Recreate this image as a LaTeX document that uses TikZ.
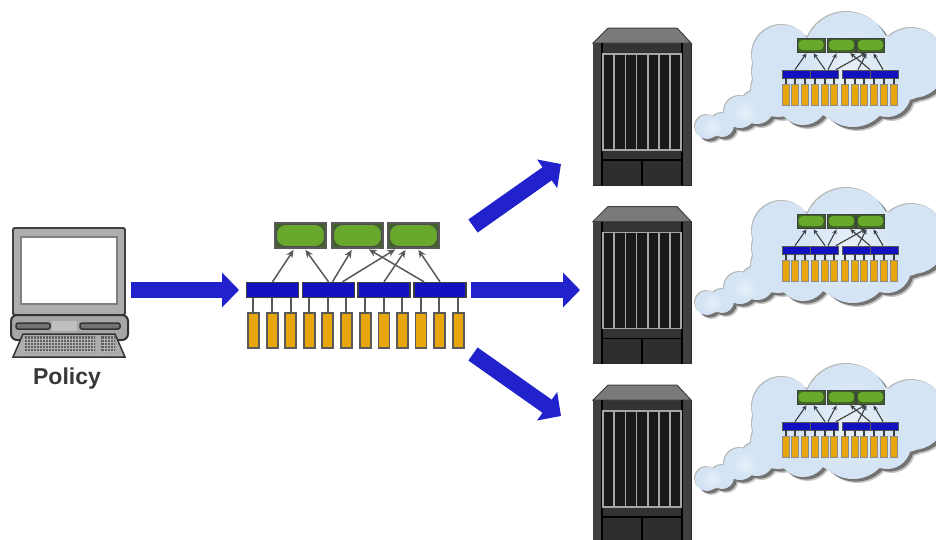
\documentclass[tikz,border=0pt]{standalone}
\usepackage{fontspec}
\setmainfont{Liberation Sans}
\usetikzlibrary{arrows.meta}
\definecolor{bigblue}{HTML}{2222CC}
\definecolor{barblue}{HTML}{1111C0}
\definecolor{leafgold}{HTML}{E6A60C}
\definecolor{leafgreen}{HTML}{68A82C}
\definecolor{boxgreen}{HTML}{3F6425}
\definecolor{cloudblue}{HTML}{D4E4F4}
\definecolor{cloudpale}{HTML}{E8F0F9}
\definecolor{inkgrey}{HTML}{3C3C3C}
\tikzset{
  bigarrow/.style={draw=bigblue,line width=16pt,-{Triangle[length=17pt,width=34pt]}},
  bigbar/.style={draw=black!75,line width=1.4pt,fill=barblue,minimum width=52pt,minimum height=15pt,inner sep=0pt},
  bigleaf/.style={draw=black!65,line width=1.6pt,fill=leafgold,minimum width=11pt,minimum height=35pt,inner sep=0pt},
  bigbox/.style={draw=black!65,line width=1.2pt,fill=boxgreen,minimum width=51pt,minimum height=25pt,inner sep=0pt},
  bigcore/.style={draw=black!70,line width=.9pt,fill=leafgreen,rounded corners=9pt,minimum width=48pt,minimum height=22pt,inner sep=0pt},
  bigup/.style={draw=inkgrey!85,line width=1.5pt,shorten >=1.5pt,-{Stealth[length=8pt,width=7pt]}},
  bigstem/.style={draw=inkgrey!85,line width=1.8pt},
  smallbar/.style={draw=black!65,line width=.8pt,fill=barblue,minimum width=28pt,minimum height=8pt,inner sep=0pt},
  smallleaf/.style={draw=black!45,line width=1pt,fill=leafgold,minimum width=7pt,minimum height=21pt,inner sep=0pt},
  smallbox/.style={draw=black!75,line width=1pt,fill=boxgreen,minimum width=28pt,minimum height=14pt,inner sep=0pt},
  smallcore/.style={fill=leafgreen,rounded corners=4pt,minimum width=25pt,minimum height=10pt,inner sep=0pt},
  smallup/.style={draw=inkgrey,line width=1.1pt,shorten >=1pt,-{Stealth[length=5pt,width=4.5pt]}},
  smallstem/.style={draw=inkgrey,line width=1.2pt},
}
\newcommand{\lobespath}{
  (782,55) circle (30pt) (778,90) circle (27pt) (780,72) circle (28pt) (847,55) circle (43pt)
  (853,90) circle (37pt) (803,100) circle (25pt) (912,63) circle (35pt)
  (907,80) circle (20pt) (887,93) circle (24pt) (815,70) circle (30pt) (880,65) circle (30pt)
  (757,107) circle (17pt) (740,112) circle (16pt) (722,125) circle (12pt) (707,127) circle (12pt)
}
\newcommand{\servericon}[1]{
  \begin{scope}[shift={(0,#1)}]
    \fill[draw=black!85,line width=1pt,fill=black!80] (593,43) rectangle (691,185);
    \fill[draw=black!75,line width=1pt,fill=black!52] (593,43) -- (608,28) -- (677,28) -- (691,43) -- cycle;
    \fill[black!75] (593,43) rectangle (602,185) (682,43) rectangle (691,185);
    \fill[black!82] (603,160) rectangle (681,185);
    \fill[black!90] (603,54) rectangle (681,150);
    \draw[black,line width=1.2pt] (602,43) -- (602,185) (682,43) -- (682,185) (602,160) -- (682,160) (642,160) -- (642,185);
    \draw[black!35,line width=1.6pt] (603,54) rectangle (681,150);
    \foreach \sx in {614,625.5,636.5,648,659,670}
      \draw[black!35,line width=1.6pt] (\sx,54) -- (\sx,150);
  \end{scope}
}
\newcommand{\cloudicon}[2]{
  \begin{scope}[shift={(0,#2)}]
    \begin{scope}[shift={(4.5,4)}]\fill[black!22] \lobespath;\end{scope}
    \begin{scope}[shift={(3,2.6)}]\fill[black!55] \lobespath;\end{scope}
    \begin{scope}[shift={(-1,-1)}]\fill[black!28] \lobespath;\end{scope}
    \fill[cloudblue] \lobespath;
    \shade[inner color=cloudpale,outer color=cloudblue] (848,72) circle (50pt);
    \shade[inner color=cloudpale,outer color=cloudblue] (745,112) circle (13pt);
    \shade[inner color=cloudpale,outer color=cloudblue] (712,127) circle (10pt);
    \foreach \i/\x in {1/811,2/841.5,3/870.5}{
      \node[smallbox] (#1g\i) at (\x,45) {};
      \node[smallcore] (#1c\i) at (#1g\i.center) {};
    }
    \foreach \i/\x in {1/796,2/824,3/856,4/884}
      \node[smallbar] (#1b\i) at (\x,74) {};
    \foreach \i/\x in {1/786,2/795,3/805,4/815,5/825,6/834,7/845,8/855,9/864,10/874,11/884,12/894}{
      \node[smallleaf] (#1o\i) at (\x,94.5) {};
    }
    \foreach \i/\j in {1/1,2/1,3/1,4/2,5/2,6/2,7/3,8/3,9/3,10/4,11/4,12/4}
      \draw[smallstem] (#1o\i.north) -- (#1o\i.north |- #1b\j.south);
    \draw[smallup] ([xshift=-1pt]#1b1.north) -- ([xshift=-4pt]#1g1.south);
    \draw[smallup] ([xshift=1pt]#1b2.north) -- ([xshift=2pt]#1g1.south);
    \draw[smallup] ([xshift=4pt]#1b2.north) -- ([xshift=-4.5pt]#1g2.south);
    \draw[smallup] ([xshift=12pt]#1b2.north) -- ([xshift=-4pt]#1g3.south);
    \draw[smallup] ([xshift=2pt]#1b3.north) -- ([xshift=-3.5pt]#1g3.south);
    \draw[smallup] ([xshift=-1pt]#1b4.north) -- ([xshift=2.5pt]#1g3.south);
    \draw[smallup] ([xshift=-14pt]#1b4.north) -- ([xshift=8pt]#1g2.south);
  \end{scope}
}
\begin{document}
\begin{tikzpicture}[x=1pt,y=-1pt]
  \useasboundingbox (0,0) rectangle (936,539);
  \fill[white] (0,0) rectangle (936,539);

  % policy workstation
  \fill[draw=black!75,line width=1.8pt,fill=black!32,rounded corners=1.5pt] (13,228) rectangle (125,315);
  \fill[draw=black!50,line width=1.5pt,fill=white] (21,237) rectangle (117,304);
  \fill[draw=black!80,line width=2pt,fill=black!35,rounded corners=6pt] (11,315) rectangle (128,340);
  \fill[draw=black!80,line width=1.5pt,fill=black!55,rounded corners=2pt] (16,323) rectangle (50,329);
  \fill[draw=black!80,line width=1.5pt,fill=black!55,rounded corners=2pt] (80,323) rectangle (120,329);
  \fill[black!25] (52,321) rectangle (77,331);
  \fill[draw=black!80,line width=1.5pt,fill=black!32] (23,334) -- (115,334) -- (125,357) -- (13,357) -- cycle;
  \fill[black!62] (25,336) rectangle (95,352) (101,336) rectangle (115,352);
  \foreach \kx in {27,30,...,93} \draw[black!30,line width=.7pt] (\kx,336) -- (\kx,352);
  \foreach \kx in {104,107,...,113} \draw[black!30,line width=.7pt] (\kx,336) -- (\kx,352);
  \foreach \ky in {339,342,...,351} \draw[black!30,line width=.7pt] (25,\ky) -- (95,\ky) (101,\ky) -- (115,\ky);
  \node[font=\bfseries\fontsize{23}{25}\selectfont,text=black!78,inner sep=0pt] (policy) at (67,379) {Policy};

  % central policy tree
  \foreach \i/\x in {1/300.5,2/357.5,3/413.5}{
    \node[bigbox] (g\i) at (\x,235.5) {};
    \node[bigcore] (c\i) at (g\i.center) {};
  }
  \foreach \i/\x in {1/272.5,2/328.5,3/384,4/440}
    \node[bigbar] (b\i) at (\x,290) {};
  \foreach \i/\x in {1/253.3,2/272.3,3/290.7,4/309.3,5/327.7,6/346.3,7/365.3,8/384,9/402.3,10/421,11/439.3,12/458.3}
    \node[bigleaf] (o\i) at (\x,330.5) {};
  \foreach \i/\j in {1/1,2/1,3/1,4/2,5/2,6/2,7/3,8/3,9/3,10/4,11/4,12/4}
    \draw[bigstem] (o\i.north) -- (o\i.north |- b\j.south);
  \draw[bigup] (b1.north) -- ([xshift=-6pt]g1.south);
  \draw[bigup] (b2.north) -- ([xshift=4pt]g1.south);
  \draw[bigup] ([xshift=4pt]b2.north) -- ([xshift=-5pt]g2.south);
  \draw[bigup] ([xshift=14pt]b2.north) -- ([xshift=-17pt]g3.south);
  \draw[bigup] (b3.north) -- ([xshift=-7pt]g3.south);
  \draw[bigup] (b4.north) -- ([xshift=4pt]g3.south);
  \draw[bigup] ([xshift=-16pt]b4.north) -- ([xshift=10pt]g2.south);

  % routers and their clouds
  \servericon{0}
  \servericon{178.5}
  \servericon{357}
  \cloudicon{ca}{0}
  \cloudicon{cb}{176}
  \cloudicon{cc}{352}

  % distribution arrows
  \coordinate (pcout) at (131,290);
  \coordinate (treein) at (239,290);
  \coordinate (treeup) at (473,226);
  \coordinate (routerup) at (561,164);
  \coordinate (treemid) at (471,290);
  \coordinate (routermid) at (580,290);
  \coordinate (treedown) at (473,354);
  \coordinate (routerdown) at (561,416);
  \draw[bigarrow] (pcout) -- (treein);
  \draw[bigarrow] (treeup) -- (routerup);
  \draw[bigarrow] (treemid) -- (routermid);
  \draw[bigarrow] (treedown) -- (routerdown);
\end{tikzpicture}
\end{document}
